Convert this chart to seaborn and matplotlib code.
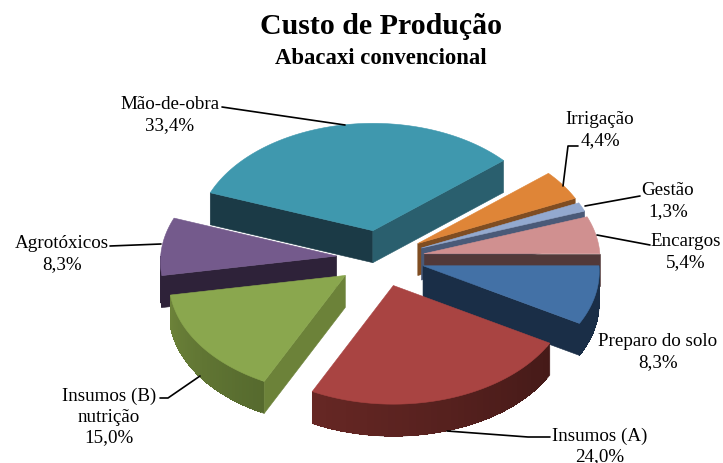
import numpy as np
import matplotlib
matplotlib.use("Agg")
import matplotlib.pyplot as plt
import seaborn as sns

# chart values, clockwise from 3 o'clock
names = ["Preparo do solo", "Insumos (A)", "Insumos (B)\nnutrição", "Agrotóxicos",
         "Mão-de-obra", "Irrigação", "Gestão", "Encargos"]
values = [8.3, 24.0, 15.0, 8.3, 33.4, 4.4, 1.3, 5.4]

tops = ["#4371A6", "#A94442", "#8AA74E", "#745A8C", "#3F98AE", "#DF8537", "#93A9CF", "#D09090"]
sides_start = ["#1A2E47", "#5E2523", "#6C8239", "#2E2239", "#1B3A46", "#7F4D22", "#4A5A78", "#523939"]
sides_end = ["#1A2E47", "#5E2523", "#6C8239", "#2E2239", "#2A5F6E", "#7F4D22", "#4A5A78", "#523939"]
outer_left = ["#1A2E47", "#662724", "#6C8239", "#2E2239", "#1B3A46", "#7F4D22", "#4A5A78", "#523939"]
outer_right = ["#1A2E47", "#451A18", "#566A2E", "#2E2239", "#2A5F6E", "#7F4D22", "#4A5A78", "#523939"]

# pie geometry in pixels
CX, CY = 380.5, 259.5
RX, RY = 176, 113
PERSP = 0.05
DEPTH = 32
EXPLODE = 0.25

# label centres, pixels
label_pos = [(658, 352), (600, 446), (109, 417), (62, 254), (170, 115), (600, 130), (668, 201), (686, 252)]
leaders = [
    None,
    [(447, 432), (528, 438), (550, 438)],
    [(160, 399), (168, 399), (200, 377)],
    [(110, 247), (161, 245)],
    [(222, 108), (345, 126)],
    [(578, 147), (568, 147), (563, 187)],
    [(640, 197), (585, 207)],
    [(650, 246), (597, 236)],
]

sns.set_theme(style="white")
plt.rcParams["font.family"] = ["Liberation Serif", "DejaVu Serif"]

fig = plt.figure(figsize=(7.23, 4.64), dpi=100)
ax = fig.add_axes([0, 0, 1, 1])
ax.set_xlim(0, 723)
ax.set_ylim(464, 0)
ax.axis("off")


def rim(th, ox, oy):
    s = 1 + PERSP * np.sin(th)
    return ox + RX * np.cos(th) * s, oy + RY * np.sin(th) * s


def face(xs, ys, color):
    ax.fill(xs, ys, color=color, lw=0.4, ec=color)


def blend(c1, c2, t):
    a = np.array(sns.color_palette([c1])[0])
    b = np.array(sns.color_palette([c2])[0])
    return tuple(a + (b - a) * t)


def draw_slice(i, a, b):
    mid = (a + b) / 2
    ox = CX + EXPLODE * RX * np.cos(mid)
    oy = CY + EXPLODE * RY * np.sin(mid)

    # outer wall, only the part that faces us
    lo, hi = max(a, 0), min(b, np.pi)
    if hi > lo:
        ths = np.linspace(lo, hi, 40)
        xs, ys = rim(ths, ox, oy)
        face(np.r_[xs, xs[::-1]], np.r_[ys, ys[::-1] + DEPTH], outer_right[i])
        # ths runs right to left on screen, each band runs on to the far end
        # so there are no seams between them
        for j in range(1, len(ths) - 1):
            col = blend(outer_right[i], outer_left[i], j / (len(ths) - 2))
            ax.fill(np.r_[xs[j:], xs[j:][::-1]], np.r_[ys[j:], ys[j:][::-1] + DEPTH],
                    color=col, lw=0, antialiased=False)

    # cut faces
    if np.cos(a) < 0:
        x1, y1 = rim(a, ox, oy)
        face([ox, x1, x1, ox], [oy, y1, y1 + DEPTH, oy + DEPTH], sides_start[i])
    if np.cos(b) > 0:
        x1, y1 = rim(b, ox, oy)
        face([ox, x1, x1, ox], [oy, y1, y1 + DEPTH, oy + DEPTH], sides_end[i])

    # top
    ths = np.linspace(a, b, 80)
    xs, ys = rim(ths, ox, oy)
    face(np.r_[ox, xs], np.r_[oy, ys], tops[i])


fracs = np.array(values) / sum(values) * 2 * np.pi
edges = np.r_[0, np.cumsum(fracs)]

# back to front
for i in [4, 5, 6, 7, 3, 0, 2, 1]:
    draw_slice(i, edges[i], edges[i + 1])

for name, val, pos, lead in zip(names, values, label_pos, leaders):
    txt = f"{name}\n{val:.1f}%".replace(".", ",")
    ax.text(pos[0], pos[1], txt, ha="center", va="center", fontsize=13.7,
            linespacing=1.25, color="black")
    if lead:
        ax.plot([p[0] for p in lead], [p[1] for p in lead], color="black", lw=1.2)

ax.text(381, 27, "Custo de Produção", ha="center", va="center", fontsize=21.5, fontweight="bold", color="black")
ax.text(381, 58, "Abacaxi convencional", ha="center", va="center", fontsize=16.4, fontweight="bold", color="black")

fig.savefig("out.png", dpi=100, facecolor="white")
